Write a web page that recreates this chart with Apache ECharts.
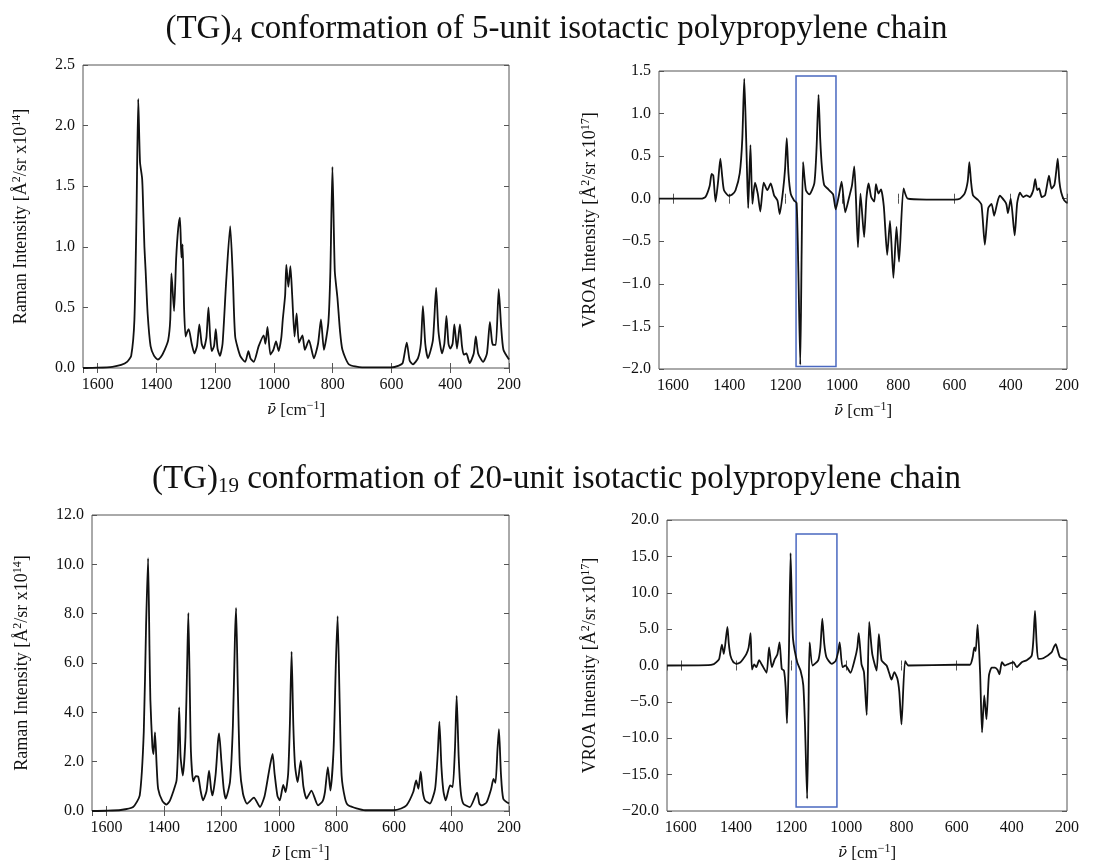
<!DOCTYPE html>
<html>
<head>
<meta charset="utf-8">
<script src="https://cdn.jsdelivr.net/npm/echarts@6/dist/echarts.min.js"></script>
<style>
	body { margin: 0; background: #fff; }
	#chart { width: 1113px; height: 863px; }
</style>
</head>
<body>
<div id="chart"></div>
<script type="text/javascript">
// (TG)4, 5-unit chain: Raman spectrum
var raman5Wn = [1650,1600,1550,1520,1500,1486,1475,1468,1462,1456,1449,1447,1441,1437,1430,1420,1408,1395,1385,1372,1360,1353,1349,1340,1333,1326,1320,1315,1311,1306,1301,1295,1290,1280,1271,1262,1254,1246,1239,1230,1223,1217,1212,1204,1198,1192,1184,1175,1163,1149,1140,1132,1115,1098,1087,1080,1069,1052,1035,1029,1022,1012,1002,993,984,975,970,962,958,951,944,938,930,923,915,903,895,881,864,850,840,830,815,808,801,793,784,775,767,745,700,600,575,562,548,538,527,510,500,493,485,476,459,448,440,428,420,413,406,400,392,386,377,367,360,354,345,334,320,313,305,288,275,265,258,254,245,235,227,219,200];
var raman5Val = [0.0,0.003,0.01,0.025,0.05,0.1,0.4,1.25,2.22,1.7,1.57,1.47,1.0,0.81,0.45,0.18,0.1,0.07,0.09,0.15,0.23,0.4,0.78,0.47,0.9,1.15,1.24,0.91,1.02,0.5,0.26,0.3,0.32,0.2,0.12,0.18,0.36,0.2,0.16,0.25,0.5,0.25,0.14,0.18,0.32,0.16,0.1,0.2,0.7,1.17,0.75,0.26,0.1,0.05,0.14,0.08,0.05,0.18,0.27,0.2,0.34,0.11,0.15,0.22,0.14,0.25,0.4,0.6,0.85,0.67,0.84,0.6,0.26,0.45,0.21,0.27,0.15,0.23,0.08,0.2,0.4,0.15,0.37,0.8,1.66,0.8,0.58,0.3,0.15,0.03,0.005,0.005,0.02,0.04,0.21,0.06,0.03,0.08,0.2,0.51,0.2,0.08,0.23,0.66,0.3,0.12,0.2,0.43,0.2,0.16,0.2,0.36,0.16,0.36,0.18,0.11,0.12,0.04,0.12,0.26,0.12,0.05,0.12,0.38,0.22,0.19,0.19,0.65,0.35,0.15,0.07];

// (TG)4, 5-unit chain: VROA spectrum
var vroa5Wn = [1650,1500,1485,1470,1463,1457,1449,1440,1432,1425,1419,1402,1390,1378,1363,1354,1347,1341,1337,1333,1325,1318,1309,1299,1290,1278,1265,1253,1241,1229,1221,1209,1202,1196,1190,1182,1170,1161,1155,1148,1143,1138,1128,1116,1098,1090,1083,1077,1071,1063,1051,1039,1031,1022,1010,1001,988,974,964,956,950,943,934,921,913,905,896,885,879,870,861,851,839,829,817,806,797,781,766,700,600,581,564,553,547,541,534,516,504,492,480,468,459,448,439,421,415,410,400,386,377,367,356,344,332,320,313,306,299,290,278,264,255,245,239,233,227,221,210,200];
var vroa5Val = [0,0,0.02,0.15,0.29,0.27,-0.035,0.2,0.47,0.25,0.1,0.035,0.05,0.1,0.3,0.7,1.41,0.8,0.3,-0.11,0.63,-0.06,0.19,0.06,-0.15,0.19,0.1,0.18,0.04,-0.02,-0.18,0.1,0.35,0.71,0.3,0.06,-0.02,-0.05,-0.8,-1.95,-0.6,0.43,0.1,0.05,0.18,0.6,1.22,0.7,0.37,0.16,0.12,0.08,0.05,-0.125,0.05,0.2,-0.16,0.02,0.16,0.38,0.0,-0.57,0.06,-0.45,0.0,0.18,0.02,-0.035,0.17,0.06,0.11,-0.09,-0.66,-0.26,-0.93,-0.33,-0.74,0.12,0.0,-0.01,-0.01,0.0,0.06,0.2,0.43,0.2,0.04,-0.015,-0.07,-0.54,-0.11,-0.06,-0.2,-0.05,0.035,-0.03,-0.07,-0.17,0.0,-0.43,-0.05,0.07,0.02,0.04,0.02,0.1,0.23,0.1,0.12,0.02,0.04,0.27,0.12,0.16,0.3,0.47,0.2,0.08,-0.02,-0.05];

// (TG)19, 20-unit chain: Raman spectrum
var raman20Wn = [1650,1600,1550,1507,1484,1470,1462,1455,1450,1447,1440,1436,1431,1425,1420,1405,1391,1380,1368,1356,1351,1347,1342,1334,1325,1319,1315,1310,1306,1298,1289,1281,1272,1264,1252,1243,1236,1231,1220,1212,1208,1200,1192,1185,1170,1160,1153,1149,1143,1136,1125,1111,1087,1066,1050,1037,1030,1022,1015,1005,997,985,977,968,962,956,950,944,935,924,915,904,887,864,848,840,830,821,810,802,796,789,782,770,759,700,600,575,556,533,523,515,507,500,492,475,457,448,442,435,428,420,405,396,388,382,375,368,359,336,311,303,295,278,262,254,247,240,235,228,220,200];
var raman20Val = [0,0.01,0.04,0.16,0.63,3.2,7.5,10.25,6.5,4.5,2.6,2.31,3.19,1.8,0.9,0.4,0.26,0.4,0.77,1.24,2.5,4.2,2.2,1.44,3.0,6.0,8.03,5.0,2.4,1.2,1.41,1.4,0.8,0.43,0.8,1.64,0.9,0.63,1.5,2.8,3.15,2.0,0.9,0.5,1.2,3.5,7.0,8.23,5.0,1.84,0.7,0.3,0.54,0.16,0.6,1.44,1.9,2.31,1.5,0.6,0.43,1.06,0.77,1.5,3.5,6.46,3.5,1.84,1.17,2.04,1.0,0.5,0.83,0.23,0.4,0.77,1.78,0.83,2.5,6.0,7.9,4.5,1.44,0.5,0.23,0.03,0.03,0.1,0.23,0.77,1.24,0.9,1.6,0.8,0.43,0.3,0.9,2.3,3.62,1.8,0.8,0.43,1.04,0.97,2.5,4.67,2.2,0.8,0.3,0.16,0.74,0.3,0.23,0.35,0.9,1.3,1.14,2.5,3.32,1.5,0.5,0.3];

// (TG)19, 20-unit chain: VROA spectrum
var vroa20Wn = [1650,1500,1480,1471,1461,1451,1444,1431,1426,1420,1410,1398,1385,1374,1362,1354,1347,1342,1334,1326,1316,1306,1289,1280,1270,1259,1250,1242,1234,1226,1220,1215,1208,1202,1197,1193,1178,1166,1156,1150,1142,1137,1133,1122,1102,1094,1087,1080,1072,1053,1039,1030,1024,1014,1003,985,969,960,955,945,936,926,917,906,890,882,872,854,844,836,826,815,808,800,787,775,600,552,542,536,531,524,515,508,500,492,483,473,461,452,445,436,425,413,394,382,364,346,328,322,316,310,304,286,256,248,241,233,225,200];
var vroa20Val = [0,0.05,0.2,0.45,0.9,2.86,1.6,5.3,3.0,1.36,0.5,0.23,0.4,0.9,1.6,2.5,4.45,-0.55,0.14,-0.23,0.73,0.1,-1.0,2.5,-0.23,0.9,1.5,3.18,-0.45,-0.7,-3.0,-7.95,2.0,15.45,8.0,3.6,0.45,-0.7,-2.7,-8.0,-18.3,-6.0,3.18,0.0,0.7,2.5,6.45,3.0,1.14,0.23,0.6,1.8,3.18,-0.23,0.0,-1.0,0.9,2.5,4.45,0.2,-0.9,-6.8,6.0,1.6,-0.7,4.3,0.68,0.0,-1.1,-1.95,-0.9,-1.8,-3.6,-8.1,0.6,0.0,0.1,0.1,1.14,2.5,2.0,5.6,-1.0,-9.2,-4.1,-7.4,-1.4,-0.3,-0.3,-0.6,-1.2,0.45,0.0,0.2,0.45,-0.23,0.45,0.73,1.36,3.5,7.5,3.0,0.9,1.0,1.8,2.5,2.95,2.0,1.14,0.77];

// blue highlight boxes [wavenumber from, to], [intensity from, to]
var box5X = [1163, 1021];
var box5Y = [-1.97, 1.44];
var box20X = [1182, 1034];
var box20Y = [-19.45, 18.09];

var FONT = 'Liberation Serif';

function pairs(xs, ys) {
	var out = [];
	for (var i = 0; i < xs.length; i++) out.push([xs[i], ys[i]]);
	return out;
}

function fmt(v) {
	return (v < 0 ? '\u2212' : '') + Math.abs(v).toFixed(1);
}

var supStyle = { fontFamily: FONT, fontSize: 12, padding: [0, 0, 9, 0], color: '#111' };

function xAxes(grid) {
	var base = {
		type: 'value', gridIndex: grid, min: 200, max: 1650, interval: 200, inverse: true,
		axisLine: { show: false },
		axisTick: { show: true, inside: true, length: 5, lineStyle: { color: '#555' } },
		splitLine: { show: false }
	};
	var bottom = Object.assign({}, base, {
		position: 'bottom',
		axisLabel: {
			fontFamily: FONT, fontSize: 16, color: '#111', margin: 9, showMaxLabel: false,
			formatter: function (v) { return String(v); }
		},
		name: '{i|\u03BD\u0304}\u00A0[cm{sup|\u22121}]',
		nameLocation: 'middle', nameGap: 32,
		nameTextStyle: {
			fontFamily: FONT, fontSize: 17, color: '#111',
			rich: { i: { fontFamily: 'DejaVu Serif', fontSize: 15, fontStyle: 'italic', color: '#111' }, sup: supStyle }
		}
	});
	var top = Object.assign({}, base, { position: 'top', axisLabel: { show: false } });
	return [bottom, top];
}

function yAxes(grid, min, max, step, name, gap) {
	var base = {
		type: 'value', gridIndex: grid, min: min, max: max, interval: step,
		axisLine: { show: false },
		axisTick: { show: true, inside: true, length: 5, lineStyle: { color: '#555' } },
		splitLine: { show: false }
	};
	var left = Object.assign({}, base, {
		position: 'left',
		axisLabel: { fontFamily: FONT, fontSize: 16, color: '#111', margin: 8, formatter: fmt },
		name: name, nameLocation: 'middle', nameGap: gap,
		nameTextStyle: { fontFamily: FONT, fontSize: 18, color: '#111', rich: { sup: supStyle } }
	});
	var right = Object.assign({}, base, { position: 'right', axisLabel: { show: false } });
	return [left, right];
}

var ramanName = 'Raman Intensity [\u00C5{sup|2}/sr x10{sup|14}]';
var vroaName = 'VROA Intensity [\u00C5{sup|2}/sr x10{sup|17}]';

function boxArea(bx, by) {
	return {
		silent: true,
		itemStyle: { color: 'rgba(0,0,0,0)', borderColor: '#4a68c0', borderWidth: 1.5 },
		data: [[{ coord: [bx[0], by[1]] }, { coord: [bx[1], by[0]] }]]
	};
}

function lineSeries(idx, data, area) {
	var s = {
		type: 'line', xAxisIndex: idx * 2, yAxisIndex: idx * 2,
		data: data, showSymbol: false, smooth: 0.2, animation: false,
		lineStyle: { color: '#111', width: 1.8 }
	};
	if (area) s.markArea = area;
	return s;
}

var titleStyle = {
	fontFamily: FONT, fontSize: 33, fontWeight: 'normal', color: '#111',
	rich: { sub: { fontFamily: FONT, fontSize: 21, padding: [15, 0, 0, 0], color: '#111' } }
};

var myChart = echarts.init(document.getElementById('chart'));
var option = {
	backgroundColor: '#fff',
	animation: false,
	title: [
		{ text: '(TG){sub|4} conformation of 5-unit isotactic polypropylene chain', left: 'center', top: 6, textStyle: titleStyle },
		{ text: '(TG){sub|19} conformation of 20-unit isotactic polypropylene chain', left: 'center', top: 456, textStyle: titleStyle }
	],
	grid: [
		{ left: 83, top: 65, width: 426, height: 303, show: true, borderColor: '#555', borderWidth: 1 },
		{ left: 659, top: 71, width: 408, height: 298, show: true, borderColor: '#555', borderWidth: 1 },
		{ left: 92, top: 515, width: 417, height: 297, show: true, borderColor: '#555', borderWidth: 1 },
		{ left: 667, top: 520, width: 400, height: 293, show: true, borderColor: '#555', borderWidth: 1 }
	],
	xAxis: [].concat(xAxes(0), xAxes(1), xAxes(2), xAxes(3)),
	yAxis: [].concat(
		yAxes(0, 0, 2.5, 0.5, ramanName, 51),
		yAxes(1, -2, 1.5, 0.5, vroaName, 58),
		yAxes(2, 0, 12, 2, ramanName, 59),
		yAxes(3, -20, 20, 5, vroaName, 66)
	),
	series: [
		lineSeries(0, pairs(raman5Wn, raman5Val)),
		lineSeries(1, pairs(vroa5Wn, vroa5Val), boxArea(box5X, box5Y)),
		lineSeries(2, pairs(raman20Wn, raman20Val)),
		lineSeries(3, pairs(vroa20Wn, vroa20Val), boxArea(box20X, box20Y))
	]
};
myChart.setOption(option);
</script>
</body>
</html>
